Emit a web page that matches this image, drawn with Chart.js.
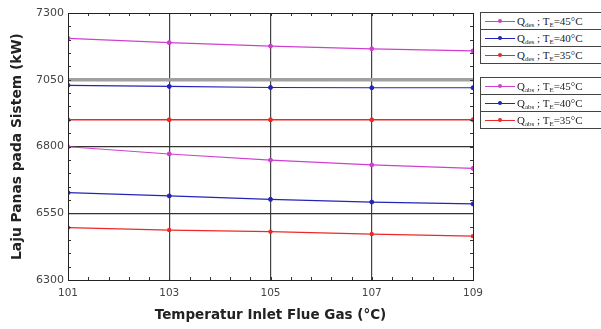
<!DOCTYPE html>
<html><head><meta charset="utf-8">
<script src="https://cdn.jsdelivr.net/npm/chart.js@4.4.0/dist/chart.umd.min.js"></script>
<style>
html,body{margin:0;padding:0;background:#fff;}
#wrap{position:relative;width:601px;height:329px;overflow:hidden;}
canvas{position:absolute;left:0;top:0;}
.lg{position:absolute;left:480px;width:125px;border:1px solid #444;background:#fff;font-family:"Liberation Serif","DejaVu Serif",serif;font-size:11px;color:#222;}
.row{position:relative;height:16px;line-height:16px;border-top:1px solid #444;white-space:nowrap;}
.row:first-child{border-top:none;}
.row .ln{position:absolute;left:4px;top:8px;width:30px;height:1px;}
.row .mk{position:absolute;left:17px;top:6px;width:4px;height:4px;border-radius:2px;}
.row .tx{position:absolute;left:36px;top:0;}
sub{font-size:7px;vertical-align:-2px;line-height:0;}
</style></head>
<body><div id="wrap"><canvas id="c" width="601" height="329"></canvas>
<div class="lg" id="lg1" style="top:12px"></div>
<div class="lg" id="lg2" style="top:77px"></div>
</div>
<script>
const xValues = [101, 103, 105, 107, 109];
const qdes45 = [7205, 7189, 7176, 7166, 7158];
const qdes40 = [7029, 7025, 7021, 7020, 7020];
const qdes35 = [6900, 6900, 6900, 6900, 6900];
const qabs45 = [6799, 6772, 6749, 6731, 6718];
const qabs40 = [6627, 6615, 6602, 6592, 6585];
const qabs35 = [6496, 6487, 6481, 6472, 6464];
const yTicks = [6300, 6550, 6800, 7050, 7300];
const xTicks = [101, 103, 105, 107, 109];
const legendTemps = ['45', '40', '35'];

const cMag = '#d040d0', cBlue = '#2424b8', cRed = '#ee2828';
function ds(label, data, color, style, w){
  return {label, data: data.map((y,i)=>({x:xValues[i], y})), borderColor: color, backgroundColor: color,
    borderWidth: w, pointRadius: 2, pointStyle: style, pointBorderWidth: 1, tension: 0};
}
const datasets = [
  ds('Qdes 45', qdes45, cMag, 'circle', 1.2),
  ds('Qdes 40', qdes40, cBlue, 'circle', 1.2),
  ds('Qdes 35', qdes35, cRed, 'circle', 1.6),
  ds('Qabs 45', qabs45, cMag, 'circle', 1.2),
  ds('Qabs 40', qabs40, cBlue, 'circle', 1.2),
  ds('Qabs 35', qabs35, cRed, 'rect', 1.2),
];

function buildLegend(id, sub, colors){
  const el = document.getElementById(id);
  el.innerHTML = legendTemps.map((t,i)=>
    `<div class="row"><div class="ln" style="background:${colors[i]}"></div><div class="mk" style="background:${colors[i]}"></div><span class="tx">Q<sub>${sub}</sub> ; T<sub>E</sub>=${t}°C</span></div>`).join('');
}
buildLegend('lg1', 'des', [cMag, cBlue, cRed]);
buildLegend('lg2', 'abs', [cMag, cBlue, cRed]);

const minorTicks = {
  id: 'minorTicks',
  afterDatasetsDraw(chart){
    const {ctx, chartArea: a, scales:{x, y}} = chart;
    ctx.save();
    ctx.strokeStyle = '#333'; ctx.lineWidth = 1;
    ctx.beginPath();
    for (let v = 101; v <= 109.001; v += 0.4){
      const px = Math.round(x.getPixelForValue(v)) + 0.5;
      ctx.moveTo(px, a.bottom); ctx.lineTo(px, a.bottom - 3);
      ctx.moveTo(px, a.top); ctx.lineTo(px, a.top + 3);
    }
    for (let v = 6300; v <= 7300; v += 50){
      const py = Math.round(y.getPixelForValue(v)) + 0.5;
      ctx.moveTo(a.left, py); ctx.lineTo(a.left + 3, py);
      ctx.moveTo(a.right, py); ctx.lineTo(a.right - 3, py);
    }
    ctx.stroke();
    ctx.strokeStyle = '#222'; ctx.lineWidth = 1;
    ctx.strokeRect(Math.round(a.left)+0.5, Math.round(a.top)+0.5, Math.round(a.right-a.left), Math.round(a.bottom-a.top));
    ctx.restore();
  }
};

new Chart(document.getElementById('c'), {
  type: 'line',
  data: { datasets },
  options: {
    responsive: false, animation: false,
    layout: { padding: { left: 0, right: 128, top: 13, bottom: 0 } },
    plugins: { legend: { display: false }, tooltip: { enabled: false } },
    scales: {
      x: { type: 'linear', min: 101, max: 109,
        afterBuildTicks: s => { s.ticks = xTicks.map(v => ({value: v})); },
        afterFit: s => { s.height = 49; },
        grid: { drawTicks: false, color: c => (c.tick && c.tick.value > 101 && c.tick.value < 109) ? '#444' : 'rgba(0,0,0,0)', lineWidth: 1.2 },
        border: { display: false },
        ticks: { color: '#444', font: { family: 'DejaVu Sans', size: 10.5 }, padding: 7, maxRotation: 0 },
        title: { display: true, text: 'Temperatur Inlet Flue Gas (°C)', color: '#222', font: { family: 'DejaVu Sans', size: 13.5, weight: 'bold' }, padding: { top: 5, bottom: 5 } }
      },
      y: { type: 'linear', min: 6300, max: 7300,
        afterBuildTicks: s => { s.ticks = yTicks.map(v => ({value: v})); },
        afterFit: s => { s.width = 68; },
        grid: { drawTicks: false,
          color: c => { const v = c.tick && c.tick.value; if (v === 7050) return '#a0a0a0'; return (v > 6300 && v < 7300) ? '#333' : 'rgba(0,0,0,0)'; },
          lineWidth: c => (c.tick && c.tick.value === 7050) ? 3.5 : 1.2 },
        border: { display: false },
        ticks: { color: '#444', font: { family: 'DejaVu Sans', size: 11 }, padding: 4, callback: v => String(v) },
        title: { display: true, text: 'Laju Panas pada Sistem (kW)', color: '#222', font: { family: 'DejaVu Sans', size: 13.8, weight: 'bold' }, padding: { top: 9, bottom: 9 } }
      }
    }
  },
  plugins: [minorTicks]
});
</script></body></html>
